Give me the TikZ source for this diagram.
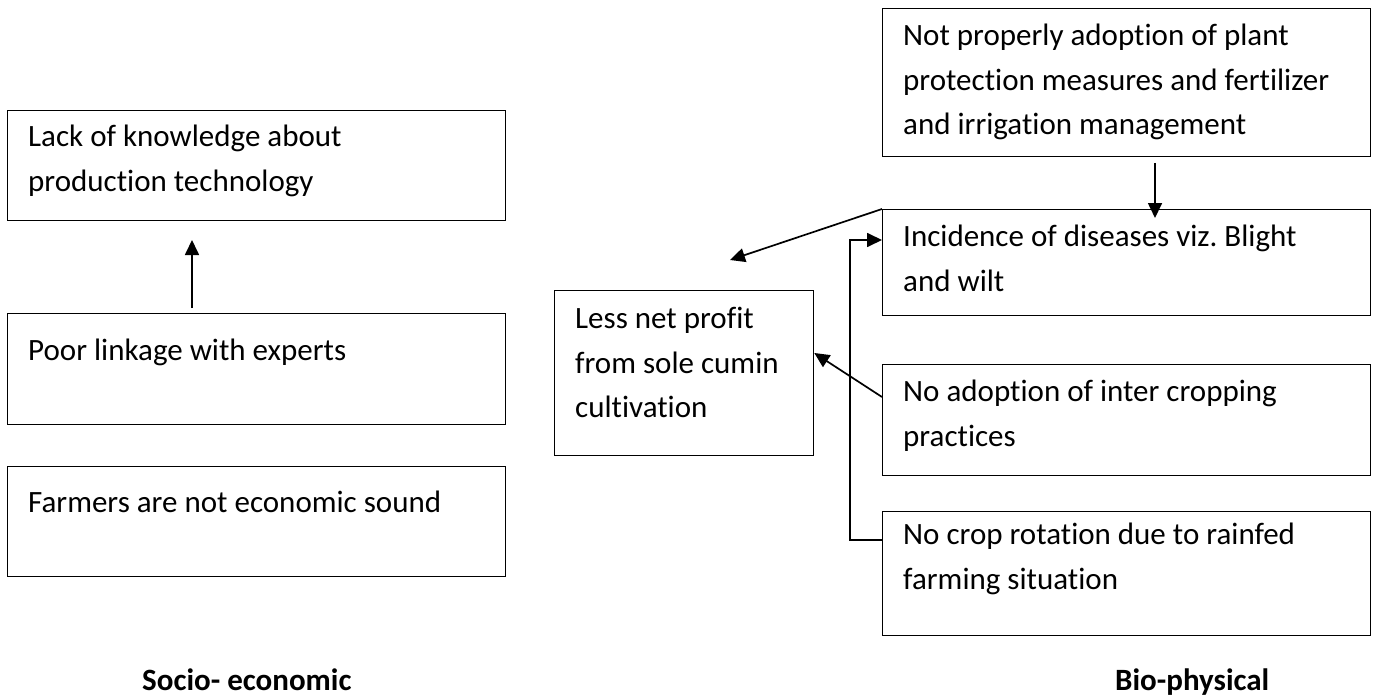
\documentclass[tikz,border=0pt]{standalone}
\usepackage{fontspec}
\setmainfont{Carlito}[Ligatures=NoCommon]
\usetikzlibrary{arrows.meta}
\frenchspacing
\begin{document}
\begin{tikzpicture}[x=1pt,y=-1pt,
  box/.style={draw, line width=1.3pt, anchor=north west, inner sep=0pt},
  txt/.style={anchor=north west, inner sep=0pt, align=left,
    font=\fontsize{31}{44.5}\selectfont,
    execute at begin node={\rule{0pt}{30pt}}},
  lbl/.style={anchor=base west, inner sep=0pt, font=\fontsize{31}{37}\selectfont\bfseries},
  arr/.style={line width=1.7pt, -{Triangle[length=15pt,width=14pt]}}]
\useasboundingbox (0,0) rectangle (1379,698);

% socio-economic column
\node[box, minimum width=498pt, minimum height=110pt] (A) at (7,110) {};
\node[box, minimum width=498pt, minimum height=111pt] (B) at (7,313) {};
\node[box, minimum width=498pt, minimum height=110pt] (C) at (7,466) {};
\node[txt] (tA) at (28,125) {Lack of knowledge about\\production technology};
\node[txt] (tB) at (28,330) {Poor linkage with experts};
\node[txt] (tC) at (28,482) {Farmers are not economic sound};

% central effect
\node[box, minimum width=259pt, minimum height=165pt] (M) at (554,290) {};
\node[txt] (tM) at (575,307) {Less net profit\\from sole cumin\\cultivation};

% bio-physical column
\node[box, minimum width=488pt, minimum height=148pt] (T) at (882,8) {};
\begin{scope}
  \clip (883,9) rectangle (1369,144);
  \node[txt] (tT) at (903,24) {Not properly adoption of plant\\protection measures and fertilizer\\and irrigation management};
\end{scope}
\node[box, minimum width=488pt, minimum height=106pt] (I) at (882,209) {};
\node[box, minimum width=488pt, minimum height=111pt] (N) at (882,364) {};
\node[box, minimum width=488pt, minimum height=124pt] (R) at (882,511) {};
\node[txt] (tI) at (903,225) {Incidence of diseases viz. Blight\\and wilt};
\node[txt] (tN) at (903,380) {No adoption of inter cropping\\practices};
\node[txt] (tR) at (903,523) {No crop rotation due to rainfed\\farming situation};

% column headings
\node[lbl] (hS) at (142,690) {Socio- economic};
\node[lbl] (hB) at (1115,690) {Bio-physical};

% connectors
\coordinate (pB) at (192,308);
\coordinate (pA) at (192,240);
\draw[arr] (pB) -- (pA);

\coordinate (pT) at (1155,163);
\coordinate (pI) at (1155,218);
\draw[arr] (pT) -- (pI);

\coordinate (pM) at (730,260);
\draw[arr] (I.north west) -- (pM);

\draw[arr] ([yshift=-33pt]N.north west) -- ([yshift=-63pt]M.north east);

\draw[arr] ([yshift=-29pt]R.north west) -- ++(-32,0) |- ([yshift=-31pt]I.north west);
\end{tikzpicture}
\end{document}
